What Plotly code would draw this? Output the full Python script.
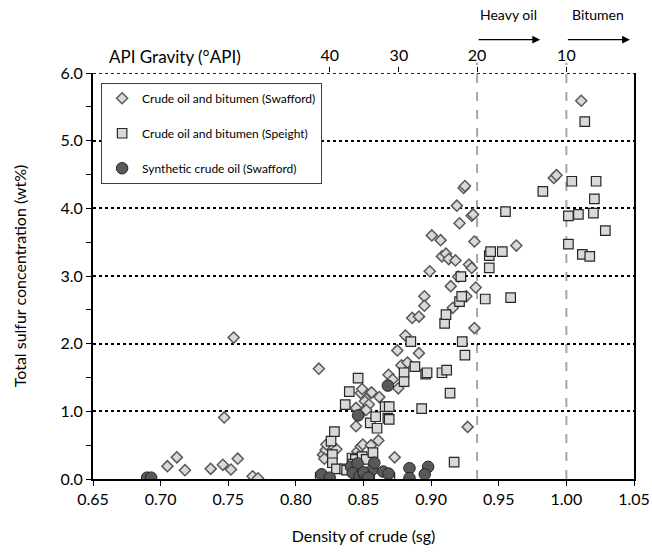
import plotly.graph_objects as go

# Crude oil and bitumen (Swafford): density (sg) and total sulfur (wt%)
swafford_sg = [0.705, 0.712, 0.718, 0.737, 0.746, 0.747, 0.752, 0.754, 0.757, 0.768, 0.772,
               0.817, 0.820, 0.822, 0.8225, 0.830, 0.821,
               0.8445, 0.8445, 0.8455, 0.848, 0.8495, 0.848, 0.849, 0.8498, 0.851, 0.854,
               0.8555, 0.856, 0.8555, 0.861, 0.8617, 0.852, 0.873,
               0.8685, 0.8715, 0.8757, 0.875, 0.878, 0.8825, 0.881, 0.886, 0.891, 0.891,
               0.895, 0.895, 0.899, 0.9005, 0.907, 0.908, 0.911, 0.913, 0.9145, 0.916,
               0.918, 0.919, 0.920, 0.921, 0.924, 0.925, 0.926, 0.927, 0.928, 0.930,
               0.930, 0.931, 0.932, 0.932, 0.933, 0.963, 0.9907, 0.9927, 1.011]
swafford_s = [0.19, 0.32, 0.13, 0.15, 0.21, 0.91, 0.14, 2.09, 0.30, 0.04, 0.01,
              1.63, 0.36, 0.43, 0.51, 0.44, 0.30,
              0.78, 1.05, 0.41, 0.48, 0.51, 1.27, 1.33, 1.00, 1.15, 1.10,
              1.27, 1.28, 0.50, 0.57, 1.21, 1.02, 0.32,
              1.54, 1.47, 1.34, 1.90, 1.68, 1.72, 2.12, 2.38, 2.40, 1.86,
              2.70, 2.56, 3.07, 3.60, 3.53, 3.29, 3.33, 3.25, 2.85, 2.53,
              3.23, 4.04, 2.99, 3.78, 4.30, 4.33, 2.70, 0.77, 3.17, 3.12,
              3.89, 3.91, 3.51, 2.23, 2.83, 3.45, 4.45, 4.49, 5.59]

# Crude oil and bitumen (Speight)
speight_sg = [0.818, 0.826, 0.827, 0.827, 0.8285, 0.830, 0.836, 0.8375, 0.8365, 0.8395,
              0.8415, 0.844, 0.846, 0.849, 0.852, 0.855, 0.860, 0.857, 0.859, 0.842,
              0.866, 0.869, 0.868, 0.869, 0.8695, 0.880, 0.880, 0.885, 0.888, 0.893,
              0.896, 0.897, 0.908, 0.910, 0.911, 0.9115, 0.914, 0.917, 0.921, 0.922,
              0.9226, 0.923, 0.925, 0.940, 0.943, 0.944, 0.943, 0.9526, 0.955, 0.9588,
              0.9826, 1.0015, 1.0015, 1.004, 1.0089, 1.0118, 1.0136, 1.0173, 1.020,
              1.0207, 1.022, 1.0288]
speight_s = [0.02, 0.56, 0.36, 0.24, 0.70, 0.15, 0.15, 0.13, 1.10, 1.29,
             0.31, 0.29, 1.49, 0.33, 0.29, 0.83, 0.75, 0.39, 0.92, 0.22,
             1.07, 1.07, 0.90, 0.88, 0.02, 1.57, 1.44, 2.03, 1.66, 1.04,
             1.55, 1.57, 1.57, 2.30, 2.43, 1.61, 1.27, 0.25, 2.62, 2.99,
             2.70, 2.03, 1.83, 2.66, 3.30, 3.36, 3.12, 3.36, 3.95, 2.68,
             4.25, 3.89, 3.47, 4.40, 3.91, 3.32, 5.28, 3.29, 3.93,
             4.14, 4.40, 3.67]

# Synthetic crude oil (Swafford)
synthetic_sg = [0.690, 0.693, 0.819, 0.825, 0.8408, 0.8456, 0.842, 0.847, 0.8506, 0.854,
                0.8567, 0.858, 0.8646, 0.8685, 0.884, 0.884, 0.8978, 0.8953, 0.846, 0.868,
                0.850, 0.8535]
synthetic_s = [0.02, 0.02, 0.07, 0.02, 0.18, 0.23, 0.09, 0.04, 0.06, 0.03,
               0.14, 0.24, 0.11, 0.08, 0.16, 0.015, 0.18, 0.07, 0.94, 1.38,
               0.10, 0.02]

# Secondary axis: API gravity ticks, placed at the equivalent specific gravity
api_ticks = [40, 30, 20, 10]
api_labels = ["40", "30", "20", "10"]
api_sg = [141.5 / (131.5 + a) for a in api_ticks]

# Class boundaries (heavy oil below 20 °API, bitumen below 10 °API)
boundary_api = [20, 10]
boundary_sg = [141.5 / (131.5 + a) for a in boundary_api]
class_labels = ["Heavy oil", "Bitumen"]

FONT = "Lato"

fig = go.Figure()

fig.add_trace(go.Scatter(
    x=swafford_sg, y=swafford_s, mode="markers",
    name="Crude oil and bitumen (Swafford)", legendgroup="a",
    marker=dict(symbol="diamond", size=8.5, color="#d9d9d9",
                line=dict(color="#595959", width=1.5)),
))
fig.add_trace(go.Scatter(
    x=speight_sg, y=speight_s, mode="markers",
    name="Crude oil and bitumen (Speight)", legendgroup="b",
    marker=dict(symbol="square", size=9.5, color="#d9d9d9",
                line=dict(color="#262626", width=1.2)),
))
fig.add_trace(go.Scatter(
    x=synthetic_sg, y=synthetic_s, mode="markers",
    name="Synthetic crude oil (Swafford)", legendgroup="c",
    marker=dict(symbol="circle", size=11.5, color="#595959",
                line=dict(color="#262626", width=1)),
))
# empty trace so the API gravity axis is drawn
fig.add_trace(go.Scatter(x=[], y=[], xaxis="x2", yaxis="y", showlegend=False,
                         hoverinfo="skip"))

shapes = []
for sg in boundary_sg:
    shapes.append(dict(type="line", xref="x", yref="paper", x0=sg, x1=sg,
                       y0=0, y1=1.025, line=dict(color="#a6a6a6", width=2, dash="dash"),
                       layer="below"))
# dotted top edge
shapes.append(dict(type="line", xref="paper", yref="y", x0=0, x1=1, y0=6, y1=6,
                   line=dict(color="#262626", width=2, dash="dot")))

annotations = [
    dict(text="API Gravity (°API)", xref="paper", yref="paper", x=0.152, y=1.04,
         xanchor="center", yanchor="middle",
         showarrow=False, font=dict(size=17, family=FONT, color="black")),
]
label_x = [0.957, 1.0235]
head_x = [0.9806, 1.047]
for sg, lab, lx, hx in zip(boundary_sg, class_labels, label_x, head_x):
    annotations.append(dict(text=lab, xref="x", yref="paper", x=lx, y=1.143,
                            xanchor="center", yanchor="middle",
                            showarrow=False, font=dict(size=14, family=FONT, color="black")))
    annotations.append(dict(text="", xref="x", yref="paper", x=hx, y=1.082,
                            axref="x", ax=sg, ayref="pixel", ay=0,
                            showarrow=True, arrowhead=2, arrowsize=1.2, arrowwidth=1.3,
                            arrowcolor="black"))

fig.update_layout(
    width=652, height=558,
    margin=dict(l=93, r=18, t=73, b=79, autoexpand=False),
    paper_bgcolor="white", plot_bgcolor="white",
    font=dict(family=FONT, size=16, color="black"),
    showlegend=True,
    legend=dict(x=0.015, y=0.976, xanchor="left", yanchor="top",
                bordercolor="#404040", borderwidth=1, bgcolor="white",
                font=dict(size=12, family=FONT), tracegroupgap=16,
                itemsizing="trace", itemwidth=30),
    xaxis=dict(range=[0.65, 1.05], dtick=0.05, tick0=0.65, tickformat=".2f",
               automargin=False,
               showgrid=False, zeroline=False, showline=True, linecolor="black",
               linewidth=2, ticks="outside", ticklen=5, tickcolor="black", tickwidth=1,
               title=dict(text="Density of crude (sg)", font=dict(size=16), standoff=24)),
    xaxis2=dict(overlaying="x", side="top", range=[0.65, 1.05], automargin=False,
                tickvals=api_sg, ticktext=api_labels, showgrid=False, zeroline=False,
                showline=False, ticks="outside", ticklen=5, tickcolor="black",
                tickfont=dict(size=16)),
    yaxis=dict(range=[0, 6], dtick=1, tickformat=".1f", showgrid=True, automargin=False,
               gridcolor="black", griddash="dot", gridwidth=1.5, zeroline=False,
               showline=True, linecolor="black", linewidth=2, mirror=True,
               ticks="outside", ticklen=5, tickcolor="black",
               minor=dict(dtick=0.5, ticks="outside", ticklen=5, tickcolor="black",
                          showgrid=False),
               title=dict(text="Total sulfur concentration (wt%)", font=dict(size=16),
                          standoff=30)),
    shapes=shapes,
    annotations=annotations,
)

fig.write_html("out.html")
